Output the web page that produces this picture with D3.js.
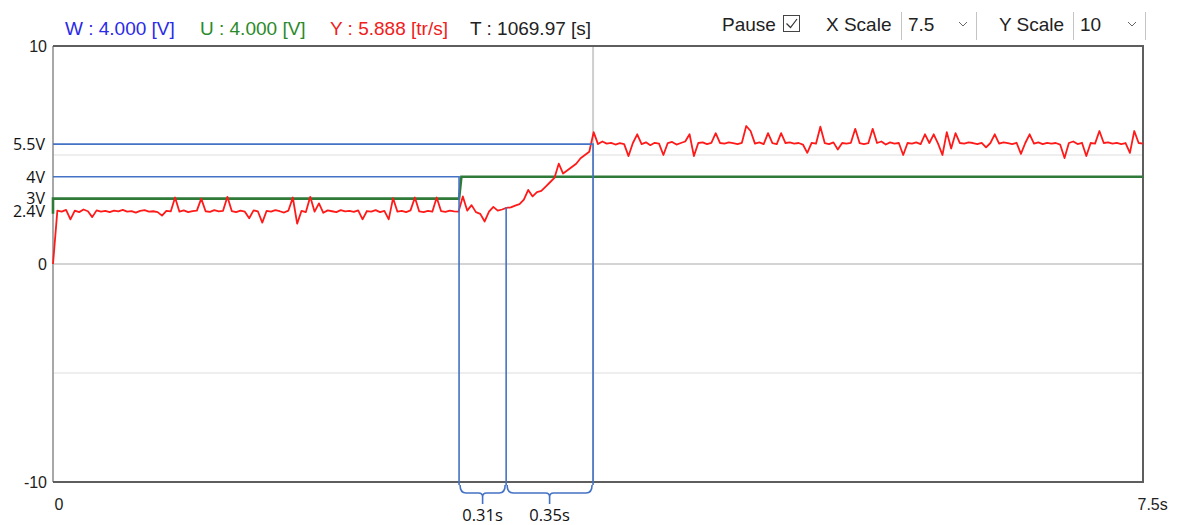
<!DOCTYPE html>
<html>
<head>
<meta charset="utf-8">
<script src="https://cdn.jsdelivr.net/npm/d3@7"></script>
<style>
  html, body { margin: 0; padding: 0; background: #fff; }
  svg { display: block; }
</style>
</head>
<body>
<svg id="chart" width="1178" height="525"></svg>
<script>
// ---- data ----------------------------------------------------------
// sampling period of the recorded speed trace (s)
const SAMPLE_DT = 0.03;

// Y : measured speed [tr/s], one sample every SAMPLE_DT seconds
const speedY = [
  0.00, 2.45, 2.40, 2.48, 2.05, 2.45, 2.38, 2.50, 2.42, 2.15,
  2.46, 2.40, 2.44, 2.38, 2.45, 2.41, 2.48, 2.40, 2.43, 2.36,
  2.44, 2.47, 2.40, 2.42, 2.38, 2.22, 2.44, 2.41, 3.05, 2.40,
  2.46, 2.38, 2.43, 2.45, 3.00, 2.42, 2.39, 2.47, 2.41, 2.44,
  3.08, 2.43, 2.38, 2.45, 2.40, 2.10, 2.46, 2.41, 1.90, 2.44,
  2.40, 2.47, 2.42, 2.36, 2.45, 3.05, 1.85, 2.44, 2.38, 3.08,
  2.40, 2.78, 2.35, 2.46, 2.42, 2.38, 2.47, 2.41, 2.44, 2.39,
  2.46, 2.05, 2.43, 2.40, 2.47, 2.38, 2.44, 2.05, 3.02, 2.40,
  2.44, 2.38, 2.46, 3.05, 2.41, 2.38, 2.44, 2.40, 3.05, 2.43,
  2.39, 2.45, 2.41, 2.40, 3.10, 2.45, 2.70, 2.38, 2.30, 1.95,
  2.40, 2.62, 2.45, 2.50, 2.57, 2.60, 2.68, 2.75, 2.95, 3.40,
  3.10, 3.30, 3.35, 3.55, 3.75, 3.95, 4.60, 4.15, 4.30, 4.45,
  4.60, 4.85, 5.00, 5.15, 6.05, 5.50, 5.62, 5.52, 5.56, 5.48,
  5.54, 5.50, 4.95, 5.55, 5.95, 5.50, 5.58, 5.45, 5.56, 5.52,
  5.00, 5.55, 5.60, 5.48, 5.55, 5.62, 5.95, 4.95, 5.55, 5.58,
  5.50, 5.56, 6.00, 5.55, 5.52, 5.58, 5.54, 5.50, 5.56, 6.33,
  6.10, 5.52, 5.58, 5.50, 6.00, 5.54, 5.50, 6.00, 5.55, 5.58,
  5.52, 5.55, 5.48, 5.10, 5.56, 5.52, 6.30, 5.55, 5.50, 5.58,
  5.25, 5.55, 5.52, 5.56, 6.20, 5.55, 5.50, 5.54, 6.20, 5.55,
  5.62, 5.48, 5.58, 5.52, 5.55, 5.00, 5.55, 5.52, 5.58, 5.50,
  5.95, 5.55, 5.95, 5.52, 5.00, 6.05, 5.30, 6.00, 5.55, 5.52,
  5.58, 5.55, 5.50, 5.56, 5.35, 5.55, 5.95, 5.52, 5.58, 5.54,
  5.50, 5.56, 5.05, 5.55, 5.95, 5.52, 5.58, 5.50, 5.56, 5.52,
  5.55, 5.48, 4.86, 5.55, 5.62, 5.50, 5.56, 4.95, 5.55, 5.52,
  6.10, 5.55, 5.58, 5.52, 5.56, 5.50, 5.55, 5.10, 6.10, 5.55,
  5.52
];

// U : command voltage [V] (step signal)
const commandTimes  = [0, 0, 2.794, 2.81, 7.5];
const commandValues = [2.3, 3, 3, 4, 4];

// annotation: voltage levels and the instants they refer to
const levelLabels = ["5.5V", "4V", "3V", "2.4V"];
const levelValues = [5.5, 4, 3, 2.4];
const stepTime   = 2.794;  // command step
const startTime  = 3.118;  // speed starts rising
const settleTime = 3.716;  // speed reaches 5.5
const riseStartLevel = 2.6;
const delayLabels = ["0.31s", "0.35s"];

// axes
const xDomain = [0, 7.5];
const yDomain = [-10, 10];
const yTicks = [-10, 0, 10];
const yGrid = [-5, 0, 5];
const xTickLabels = ["0", "7.5s"];

// header readouts
const readoutLabels = ["W : 4.000 [V]", "U : 4.000 [V]", "Y : 5.888 [tr/s]", "T : 1069.97 [s]"];
const readoutColors = ["#2a2ae8", "#2a8a2a", "#f02020", "#222"];

// ---- drawing -------------------------------------------------------
const svg = d3.select("#chart");
const plot = { left: 53, right: 1143, top: 46, bottom: 482 };

const x = d3.scaleLinear().domain(xDomain).range([plot.left, plot.right]);
const y = d3.scaleLinear().domain(yDomain).range([plot.bottom, plot.top]);

const ARIAL = "'Liberation Sans', Arial, sans-serif";
const NOTE = "'Open Sans', 'Noto Sans', sans-serif";
const BLUE = "#4472c4";

// grid lines
svg.append("g").selectAll("line").data(yGrid).join("line")
  .attr("x1", plot.left).attr("x2", plot.right)
  .attr("y1", d => y(d)).attr("y2", d => y(d))
  .attr("stroke", d => d === 0 ? "#d4d4d4" : "#eeeeee")
  .attr("stroke-width", 2);

// cursor line
svg.append("line")
  .attr("x1", x(settleTime)).attr("x2", x(settleTime))
  .attr("y1", plot.top).attr("y2", plot.bottom)
  .attr("stroke", "#cfcfcf").attr("stroke-width", 2);

// frame
svg.append("line").attr("x1", plot.left).attr("x2", plot.left)
  .attr("y1", plot.top).attr("y2", plot.bottom)
  .attr("stroke", "#a8a8a8").attr("stroke-width", 2);
svg.append("path")
  .attr("d", `M${plot.left},${plot.top} H${plot.right} V${plot.bottom} H${plot.left}`)
  .attr("fill", "none").attr("stroke", "#5e5e5e").attr("stroke-width", 2);

// y axis
const yAxis = svg.append("g")
  .attr("transform", `translate(${plot.left},0)`)
  .call(d3.axisLeft(y).tickValues(yTicks).tickSize(0).tickPadding(6)
    .tickFormat(d => String(d)));
yAxis.select(".domain").remove();
yAxis.selectAll("text").attr("font-family", ARIAL).attr("font-size", 16).attr("fill", "#222");

// x axis labels
const xAxis = svg.append("g")
  .attr("transform", `translate(0,${plot.bottom})`)
  .call(d3.axisBottom(x).tickValues(xDomain).tickSize(0).tickPadding(17)
    .tickFormat((d, i) => xTickLabels[i]));
xAxis.select(".domain").remove();
xAxis.selectAll("text").attr("font-family", ARIAL).attr("font-size", 16).attr("fill", "#222")
  .attr("text-anchor", "start")
  .attr("dx", (d, i) => i === 0 ? 1 : -6);

// command U (green step)
const cmd = commandTimes.map((t, i) => [t, commandValues[i]]);
svg.append("path").datum(cmd)
  .attr("d", d3.line().x(d => x(d[0])).y(d => y(d[1])))
  .attr("fill", "none").attr("stroke", "#2f7a38").attr("stroke-width", 2.6);

// speed Y (red)
svg.append("path").datum(speedY)
  .attr("d", d3.line().x((d, i) => x(i * SAMPLE_DT)).y(d => y(d)))
  .attr("fill", "none").attr("stroke", "#ff1a1a").attr("stroke-width", 1.8)
  .attr("stroke-linejoin", "round");

// annotation lines
const annot = svg.append("g").attr("fill", "none").attr("stroke", BLUE).attr("stroke-width", 1.6);
const braceTop = plot.bottom + 3;
annot.append("path")
  .attr("d", `M${x(0)},${y(levelValues[0])} H${x(settleTime)} V${braceTop}`);
annot.append("path")
  .attr("d", `M${x(0)},${y(levelValues[1])} H${x(stepTime)} V${braceTop}`);
annot.append("path")
  .attr("d", `M${x(startTime)},${y(riseStartLevel)} V${braceTop}`);

// braces under the axis
function bracePath(a, b) {
  const top = braceTop, mid = braceTop + 8, tip = braceTop + 19, r = 6;
  const m = (a + b) / 2;
  return `M${a},${top} Q${a},${mid} ${a + r},${mid} H${m - 4} Q${m},${mid} ${m},${mid + 4} V${tip}` +
         `M${m},${mid + 4} Q${m},${mid} ${m + 4},${mid} H${b - r} Q${b},${mid} ${b},${top}`;
}
const spans = [[stepTime, startTime], [startTime, settleTime]];
annot.selectAll("path.brace").data(spans).join("path")
  .attr("class", "brace")
  .attr("d", d => bracePath(x(d[0]) + 1, x(d[1]) - 1));
svg.append("g").selectAll("text").data(spans).join("text")
  .attr("x", d => (x(d[0]) + x(d[1])) / 2)
  .attr("y", 521)
  .attr("text-anchor", "middle")
  .attr("font-family", NOTE).attr("font-size", 16.5).attr("fill", "#111")
  .text((d, i) => delayLabels[i]);

// level labels
svg.append("g").selectAll("text").data(levelValues).join("text")
  .attr("x", 45)
  .attr("y", d => y(d))
  .attr("dy", "0.36em")
  .attr("text-anchor", "end")
  .attr("font-family", NOTE).attr("font-size", 16).attr("fill", "#111")
  .text((d, i) => levelLabels[i]);

// header readouts
const readoutX = [65, 200, 330, 470];
svg.append("g").selectAll("text").data(readoutLabels).join("text")
  .attr("x", (d, i) => readoutX[i]).attr("y", 35)
  .attr("font-family", ARIAL).attr("font-size", 19)
  .attr("fill", (d, i) => readoutColors[i])
  .text(d => d);

// controls
const ctl = svg.append("g").attr("font-family", ARIAL).attr("font-size", 19).attr("fill", "#222");
ctl.append("text").attr("x", 722).attr("y", 31).text("Pause");
ctl.append("rect").attr("x", 783.5).attr("y", 15.5).attr("width", 16).attr("height", 16)
  .attr("fill", "#fff").attr("stroke", "#444").attr("stroke-width", 1);
ctl.append("path").attr("d", "M786.5,23.5 L790.5,27.5 L797,19")
  .attr("fill", "none").attr("stroke", "#333").attr("stroke-width", 1.2);

const selects = [
  { label: "X Scale", lx: 826, box: [901, 976], value: "7.5" },
  { label: "Y Scale", lx: 999, box: [1073, 1145], value: "10" }
];
selects.forEach(s => {
  ctl.append("text").attr("x", s.lx).attr("y", 31).text(s.label);
  ctl.append("path")
    .attr("d", `M${s.box[0] + 0.5},12 V40 M${s.box[1] + 0.5},12 V40`)
    .attr("stroke", "#c4c4c4").attr("stroke-width", 1).attr("fill", "none");
  ctl.append("text").attr("x", s.box[0] + 7).attr("y", 31).text(s.value);
  const cx = s.box[1] - 13;
  ctl.append("path").attr("d", `M${cx - 4},22 L${cx},26 L${cx + 4},22`)
    .attr("fill", "none").attr("stroke", "#666").attr("stroke-width", 1);
});
</script>
</body>
</html>
